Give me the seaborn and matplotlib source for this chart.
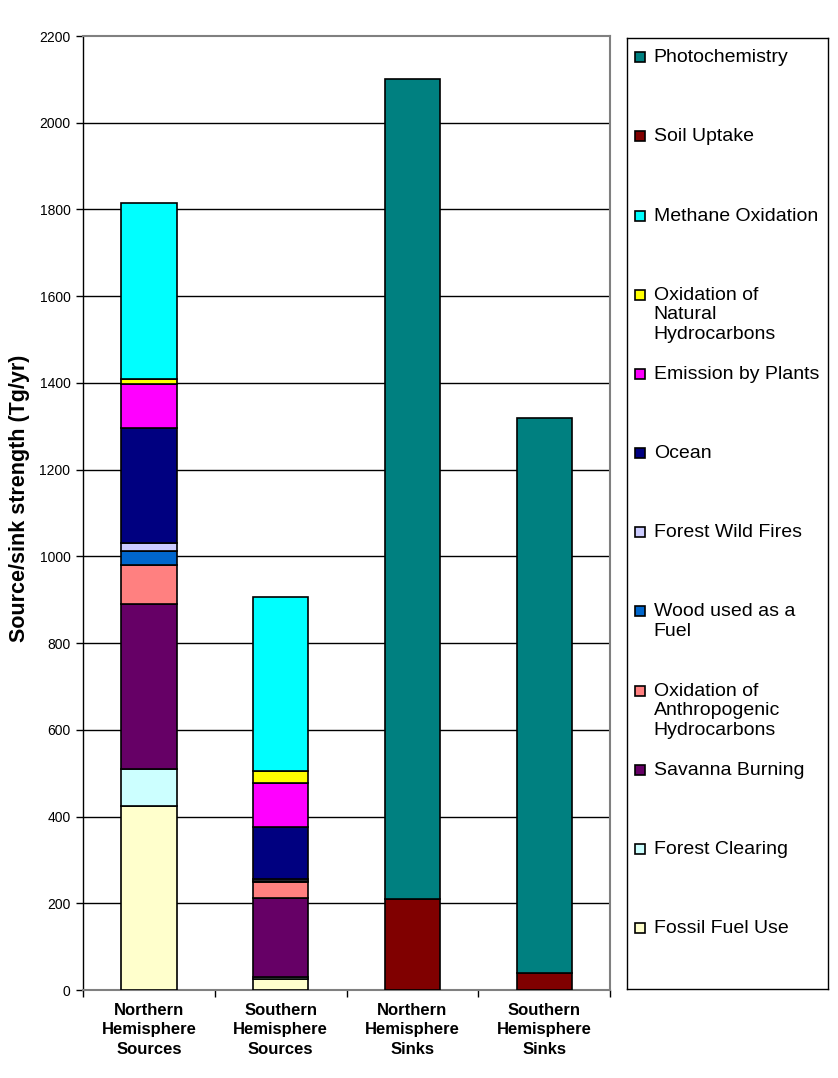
import numpy as np
import pandas as pd
import seaborn as sns
import matplotlib.pyplot as plt
from matplotlib.patches import Rectangle

categories = ["Northern\nHemisphere\nSources", "Southern\nHemisphere\nSources",
              "Northern\nHemisphere\nSinks", "Southern\nHemisphere\nSinks"]

# stacked from the bottom up, values in Tg/yr
components = ["Fossil Fuel Use", "Forest Clearing", "Savanna Burning",
              "Oxidation of\nAnthropogenic\nHydrocarbons", "Wood used as a\nFuel",
              "Forest Wild Fires", "Ocean", "Emission by Plants",
              "Oxidation of\nNatural\nHydrocarbons", "Methane Oxidation",
              "Soil Uptake", "Photochemistry"]
fossil_fuel = [425, 25, 0, 0]
forest_clearing = [85, 5, 0, 0]
savanna_burning = [380, 182, 0, 0]
anthropogenic_hc = [90, 37, 0, 0]
wood_fuel = [32, 3, 0, 0]
forest_wild_fires = [20, 3, 0, 0]
ocean = [265, 122, 0, 0]
emission_plants = [100, 100, 0, 0]
natural_hc = [12, 27, 0, 0]
methane_oxidation = [405, 403, 0, 0]
soil_uptake = [0, 0, 210, 40]
photochemistry = [0, 0, 1890, 1280]

colors = ["#FFFFCC", "#CCFFFF", "#660066", "#FF8080", "#0066CC", "#CCCCFF",
          "#000080", "#FF00FF", "#FFFF00", "#00FFFF", "#800000", "#008080"]

layers = [fossil_fuel, forest_clearing, savanna_burning, anthropogenic_hc, wood_fuel,
          forest_wild_fires, ocean, emission_plants, natural_hc, methane_oxidation,
          soil_uptake, photochemistry]

sns.set_style("white")
plt.rcParams['font.family'] = ['Liberation Sans', 'DejaVu Sans']
plt.rcParams.update({"text.color": "black", "axes.labelcolor": "black",
                     "xtick.color": "black", "ytick.color": "black"})

fig = plt.figure(figsize=(8.38, 10.78), dpi=100)
ax = fig.add_axes([0.099, 0.0816, 0.629, 0.885])

bottom = np.zeros(len(categories))
for name, vals, col in zip(components, layers, colors):
    vals = np.array(vals, dtype=float)
    keep = vals > 0
    df = pd.DataFrame({"cat": np.array(categories)[keep], "val": vals[keep]})
    sns.barplot(data=df, x="cat", y="val", order=categories, color=col,
                width=0.42, edgecolor="black", linewidth=1.2, errorbar=None,
                bottom=bottom[keep], saturation=1, ax=ax, zorder=3)
    bottom += vals

ax.set_ylim(0, 2200)
ax.set_xlim(-0.5, 3.5)
ax.set_yticks(np.arange(0, 2201, 200))
for yv in range(200, 2001, 200):
    ax.axhline(yv, color="black", linewidth=1, zorder=1)
ax.tick_params(axis="y", direction="out", length=5, width=1, color="black",
               labelsize=10, pad=4, left=True)
ax.set_xticks([-0.5, 0.5, 1.5, 2.5, 3.5])
ax.set_xticklabels([])
ax.set_xticks(range(4), minor=True)
ax.set_xticklabels(categories, minor=True, fontsize=12, fontweight="bold",
                   linespacing=1.4)
ax.tick_params(axis="x", which="major", direction="out", length=5, width=1,
               color="black", bottom=True)
ax.tick_params(axis="x", which="minor", length=0, pad=9)
ax.set_xlabel("")
ax.set_ylabel("Source/sink strength (Tg/yr)", fontsize=15.5, fontweight="bold")
ax.yaxis.set_label_coords(-0.1, 0.515)

for side in ["top", "right", "bottom"]:
    ax.spines[side].set_color("#808080")
    ax.spines[side].set_linewidth(1.5)
ax.spines["left"].set_color("black")
ax.spines["left"].set_linewidth(1)

# legend box, Excel style: evenly spaced entries, top entry first
lax = fig.add_axes([0.748, 0.0826, 0.240, 0.882])
lax.set_xlim(0, 1)
lax.set_ylim(0, 1)
lax.set_xticks([])
lax.set_yticks([])
for s in lax.spines.values():
    s.set_color("black")
    s.set_linewidth(1)

step = 79.2 / 951
sq_w = 10 / 201
sq_h = 10 / 951
for i, (name, col) in enumerate(zip(components[::-1], colors[::-1])):
    yc = 0.98 - i * step
    lax.add_patch(Rectangle((0.04, yc - sq_h / 2), sq_w, sq_h, facecolor=col,
                            edgecolor="black", linewidth=1.2))
    lax.text(0.134, yc + 8 / 951, name, fontsize=14, va="top", ha="left",
             linespacing=1.2)

fig.savefig("out.png", dpi=100)
